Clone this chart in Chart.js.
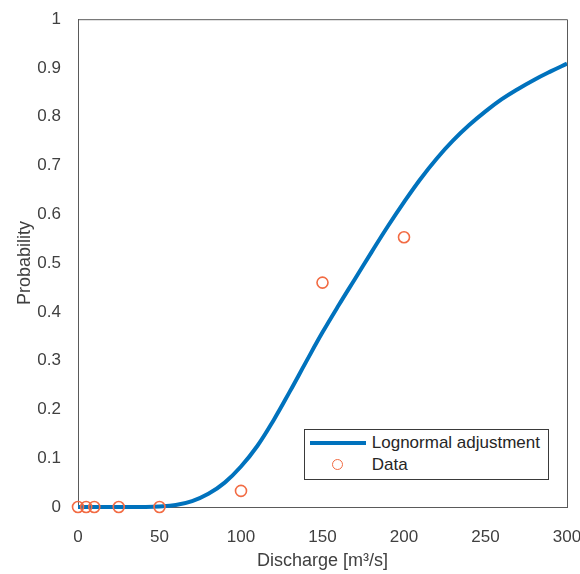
<!DOCTYPE html>
<html>
<head>
<meta charset="utf-8">
<script src="https://cdn.jsdelivr.net/npm/chart.js@4.4.1/dist/chart.umd.min.js"></script>
<style>
  html, body { margin: 0; padding: 0; background: #fff; }
  #wrap { position: relative; width: 580px; height: 574px; }
  #legend {
    position: absolute;
    box-sizing: border-box;
    border: 1px solid #3a3a3a;
    background: #fff;
    font-family: "Liberation Sans", Arial, sans-serif;
    font-size: 17px;
    color: #262626;
    padding: 2px 8px 3px 5px;
    line-height: 22px;
  }
  #legend .row { display: flex; align-items: center; white-space: nowrap; }
  #legend .mark { width: 56px; height: 22px; margin-right: 6px; position: relative; }
</style>
</head>
<body>
<div id="wrap">
  <canvas id="cdfChart" width="580" height="574"></canvas>
  <div id="legend"></div>
</div>
<script>
// ========== DATOS ==========
// curva ajustada (lectura de la figura)
const fitX = [0, 10, 20, 30, 40, 50, 60, 70, 80, 90, 100, 110, 120, 130, 140, 150,
  160, 170, 180, 190, 200, 210, 220, 230, 240, 250, 260, 270, 280, 290, 300];
const fitY = [0, 0, 0, 0, 0, 0.001, 0.004, 0.012, 0.027, 0.05, 0.083, 0.125, 0.178, 0.237, 0.298, 0.358,
  0.414, 0.468, 0.522, 0.575, 0.625, 0.672, 0.714, 0.751, 0.783, 0.811, 0.836, 0.857, 0.876, 0.893, 0.909];

// observaciones
const obsX = [0, 5, 10, 25, 50, 100, 150, 200];
const obsY = [0, 0, 0, 0, 0, 0.033, 0.46, 0.553];

const seriesLabels = ["Lognormal adjustment", "Data"];
const xTicks = [0, 50, 100, 150, 200, 250, 300];
const yTicks = [0, 0.1, 0.2, 0.3, 0.4, 0.5, 0.6, 0.7, 0.8, 0.9, 1];

const blue = "#0072BD";
const orange = "#F26B43";
const axisColor = "#5a5a5a";
const textColor = "#404040";
const font = "'Liberation Sans', Arial, sans-serif";

// ========== MARCO (caja completa) ==========
const boxPlugin = {
  id: "box",
  afterDatasetsDraw(chart) {
    const { ctx, chartArea: a } = chart;
    ctx.save();
    ctx.strokeStyle = axisColor;
    ctx.lineWidth = 1;
    ctx.beginPath();
    ctx.moveTo(a.left, a.top + 0.5);
    ctx.lineTo(a.right + 0.5, a.top + 0.5);
    ctx.lineTo(a.right + 0.5, a.bottom);
    ctx.stroke();
    ctx.restore();
  },
  afterRender(chart) {
    // posicionar la leyenda dentro del area
    const a = chart.chartArea;
    const legend = document.getElementById("legend");
    legend.style.right = (580 - a.right + 18) + "px";
    legend.style.bottom = (574 - a.bottom + 27) + "px";
  }
};

const ctx = document.getElementById("cdfChart").getContext("2d");
new Chart(ctx, {
  type: "scatter",
  data: {
    datasets: [
      {
        type: "line",
        label: seriesLabels[0],
        data: fitX.map((x, i) => ({ x, y: fitY[i] })),
        borderColor: blue,
        borderWidth: 4,
        pointRadius: 0,
        tension: 0.4,
        fill: false,
        clip: false,
        order: 2
      },
      {
        label: seriesLabels[1],
        data: obsX.map((x, i) => ({ x, y: obsY[i] })),
        pointStyle: "circle",
        pointRadius: 5.5,
        pointBorderWidth: 1.6,
        pointBorderColor: orange,
        pointBackgroundColor: "rgba(0,0,0,0)",
        clip: false,
        order: 1
      }
    ]
  },
  options: {
    responsive: false,
    animation: false,
    layout: { padding: { left: 0, top: 19, right: 0, bottom: 0 } },
    plugins: {
      legend: { display: false },
      tooltip: { enabled: false }
    },
    scales: {
      x: {
        type: "linear",
        min: 0,
        max: 300,
        afterBuildTicks: s => { s.ticks = xTicks.map(v => ({ value: v })); },
        afterFit: s => { s.height = 67; s.paddingLeft = 0; s.paddingRight = 13; },
        grid: { display: false },
        border: { display: true, color: axisColor, width: 1 },
        ticks: { color: textColor, padding: 12, font: { family: font, size: 17 }, callback: v => String(v) },
        title: {
          display: true,
          text: "Discharge [m³/s]",
          color: textColor,
          font: { family: font, size: 18 },
          padding: { top: 0, bottom: 2 }
        }
      },
      y: {
        min: 0,
        max: 1,
        afterBuildTicks: s => { s.ticks = yTicks.map(v => ({ value: v })); },
        afterFit: s => { s.width = 78; },
        grid: { display: false },
        border: { display: true, color: axisColor, width: 1 },
        ticks: { color: textColor, padding: 9, font: { family: font, size: 17 }, callback: v => String(v) },
        title: {
          display: true,
          text: "Probability",
          color: textColor,
          font: { family: font, size: 18 },
          padding: { top: 14, bottom: 0 }
        }
      }
    }
  },
  plugins: [boxPlugin]
});

// ========== LEYENDA ==========
const legendEl = document.getElementById("legend");
legendEl.innerHTML =
  '<div class="row"><span class="mark"><span style="position:absolute;left:0;right:0;top:9px;height:4px;background:' + blue + '"></span></span>' + seriesLabels[0] + '</div>' +
  '<div class="row"><span class="mark"><span style="position:absolute;left:22px;top:5px;width:9px;height:9px;border:1.6px solid ' + orange + ';border-radius:50%"></span></span>' + seriesLabels[1] + '</div>';
</script>
</body>
</html>
